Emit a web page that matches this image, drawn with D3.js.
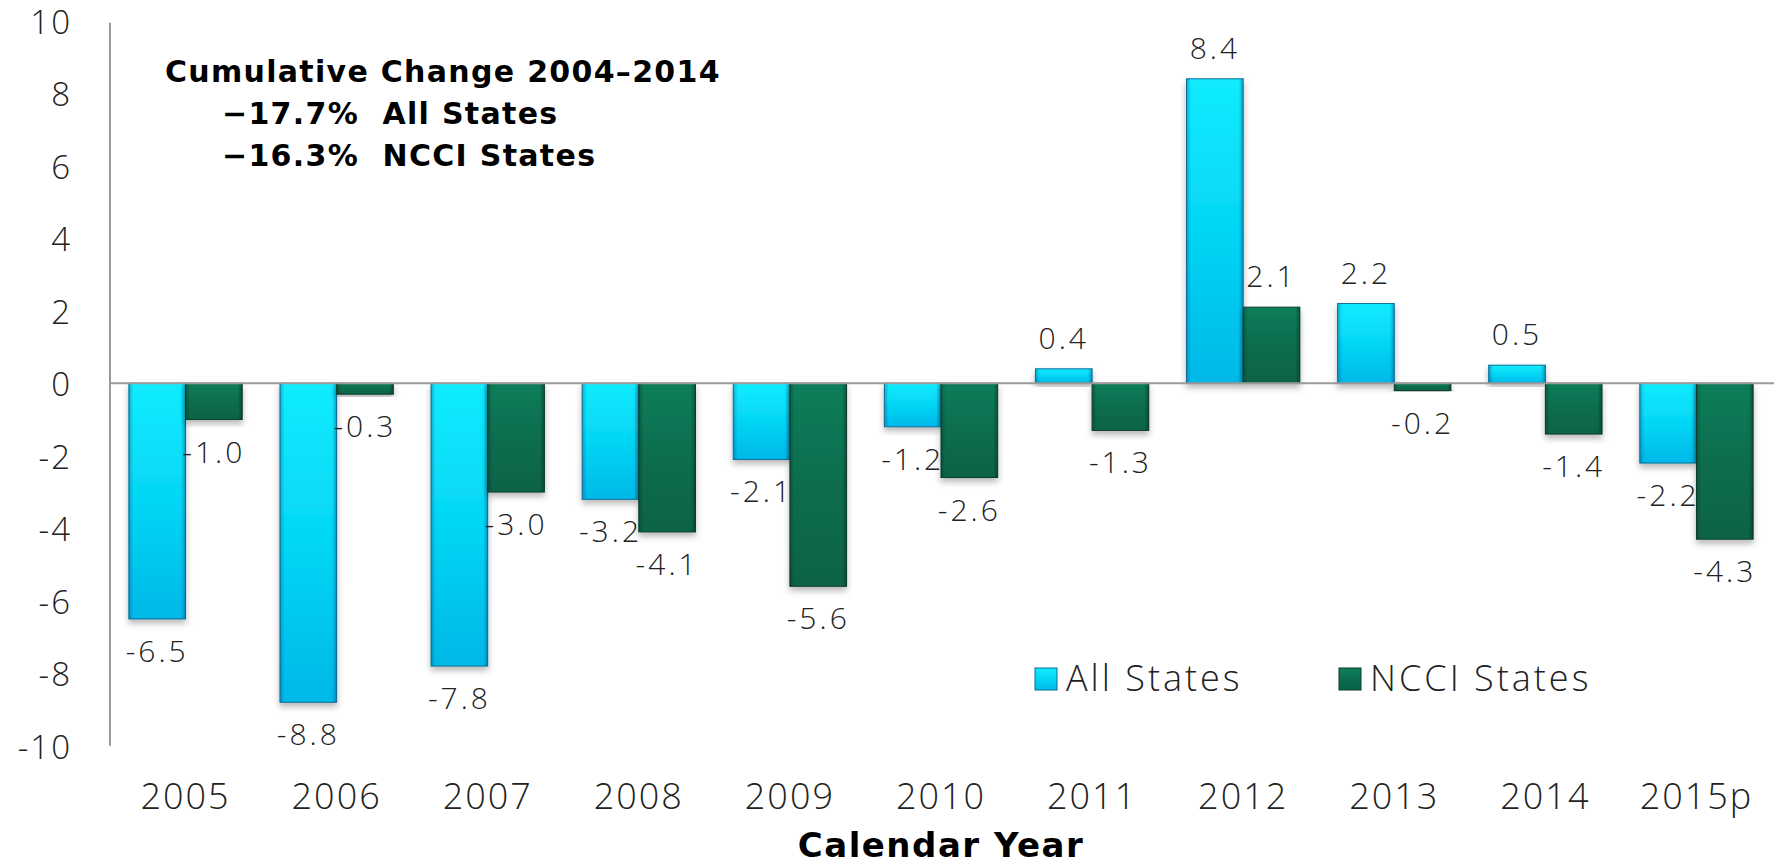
<!DOCTYPE html>
<html>
<head>
<meta charset="utf-8">
<script src="https://cdn.jsdelivr.net/npm/d3@7"></script>
<style>
  html, body { margin: 0; padding: 0; background: #fff; }
  svg { display: block; }
  .light { font-family: "Open Sans", "DejaVu Sans", sans-serif; font-weight: 300; fill: #222; }
  .bold { font-family: "DejaVu Sans", Verdana, sans-serif; font-weight: bold; fill: #000; white-space: pre; }
</style>
</head>
<body>
<svg id="chart" width="1781" height="866"></svg>
<script>
// data
const years = ['2005', '2006', '2007', '2008', '2009', '2010', '2011', '2012', '2013', '2014', '2015p'];
const allStates = [-6.5, -8.8, -7.8, -3.2, -2.1, -1.2, 0.4, 8.4, 2.2, 0.5, -2.2];
const ncciStates = [-1.0, -0.3, -3.0, -4.1, -5.6, -2.6, -1.3, 2.1, -0.2, -1.4, -4.3];
const seriesNames = ['All States', 'NCCI States'];
const yTicks = [-10, -8, -6, -4, -2, 0, 2, 4, 6, 8, 10];
const noteLines = ['Cumulative Change 2004\u20132014', '\u221217.7%  All States', '\u221216.3%  NCCI States'];

const plot = { left: 110, right: 1772, top: 20.8, bottom: 745.8 };

let svg = d3.select('svg#chart');
let defs = svg.append('defs');

// bevel-ish fills, a vertical gradient plus darker side edges
function makeGradients(id, top, mid, bottom, edge) {
  let v = defs.append('linearGradient').attr('id', id).attr('x1', 0).attr('y1', 0).attr('x2', 0).attr('y2', 1);
  v.append('stop').attr('offset', '0%').attr('stop-color', top);
  v.append('stop').attr('offset', '50%').attr('stop-color', mid);
  v.append('stop').attr('offset', '100%').attr('stop-color', bottom);

  let h = defs.append('linearGradient').attr('id', id + '-edge').attr('x1', 0).attr('y1', 0).attr('x2', 1).attr('y2', 0);
  h.append('stop').attr('offset', '0%').attr('stop-color', edge).attr('stop-opacity', 0.35);
  h.append('stop').attr('offset', '8%').attr('stop-color', edge).attr('stop-opacity', 0);
  h.append('stop').attr('offset', '92%').attr('stop-color', edge).attr('stop-opacity', 0);
  h.append('stop').attr('offset', '100%').attr('stop-color', edge).attr('stop-opacity', 0.45);
}
makeGradients('blue', '#12ecff', '#04d6f5', '#02b8e8', '#024a7a');
makeGradients('green', '#0e7d5a', '#0a6d4e', '#086346', '#02261a');

let shadow = defs.append('filter').attr('id', 'shadow')
  .attr('x', '-20%').attr('y', '-20%').attr('width', '140%').attr('height', '140%');
shadow.append('feDropShadow').attr('dx', 0).attr('dy', 4).attr('stdDeviation', 3)
  .attr('flood-color', '#000').attr('flood-opacity', 0.28);

let x0 = d3.scaleBand().domain(years).range([plot.left, plot.right]).paddingInner(0.25).paddingOuter(0.125);
let x1 = d3.scaleBand().domain(seriesNames).range([0, x0.bandwidth()]);
let y = d3.scaleLinear().domain([-10, 10]).range([plot.bottom, plot.top]);

// y axis: line plus labels, no ticks
svg.append('line')
  .attr('x1', plot.left).attr('x2', plot.left)
  .attr('y1', y(10) + 2).attr('y2', y(-10))
  .style('stroke', '#9a9a9a').style('stroke-width', 2);

svg.append('g').selectAll('text').data(yTicks).join('text')
  .attr('class', 'light')
  .attr('x', 72)
  .attr('y', d => y(d) + 13)
  .attr('text-anchor', 'end')
  .style('font-size', '33px')
  .style('letter-spacing', '2px')
  .text(d => String(d));

// x labels
svg.append('g').selectAll('text').data(years).join('text')
  .attr('class', 'light')
  .attr('x', d => x0(d) + x0.bandwidth() / 2)
  .attr('y', 809)
  .attr('text-anchor', 'middle')
  .style('font-size', '36px')
  .style('letter-spacing', '2px')
  .text(d => d);

svg.append('text')
  .attr('class', 'bold')
  .attr('x', (plot.left + plot.right) / 2)
  .attr('y', 857)
  .attr('text-anchor', 'middle')
  .style('font-size', '34px')
  .style('letter-spacing', '1.5px')
  .text('Calendar Year');

// bars
let rows = years.map((yr, i) => ({ yr, values: [allStates[i], ncciStates[i]] }));
let fills = ['blue', 'green'];
let strokes = ['#0b6f98', '#0a3e2e'];

let groups = svg.append('g').selectAll('g').data(rows).join('g')
  .attr('transform', d => `translate(${x0(d.yr)},0)`);

let bars = groups.selectAll('g.bar')
  .data(d => d.values.map((v, s) => ({ v, s })))
  .join('g').attr('class', 'bar');

bars.append('rect')
  .attr('x', d => x1(seriesNames[d.s]))
  .attr('y', d => y(Math.max(0, d.v)))
  .attr('width', x1.bandwidth())
  .attr('height', d => Math.abs(y(d.v) - y(0)))
  .attr('fill', d => `url(#${fills[d.s]})`)
  .attr('stroke', d => strokes[d.s])
  .attr('stroke-width', 1)
  .attr('filter', 'url(#shadow)');

bars.append('rect')
  .attr('x', d => x1(seriesNames[d.s]))
  .attr('y', d => y(Math.max(0, d.v)))
  .attr('width', x1.bandwidth())
  .attr('height', d => Math.abs(y(d.v) - y(0)))
  .attr('fill', d => `url(#${fills[d.s]}-edge)`);

// zero line sits on top of bar edges
svg.append('line')
  .attr('x1', plot.left).attr('x2', plot.right + 2)
  .attr('y1', y(0)).attr('y2', y(0))
  .style('stroke', '#9a9a9a').style('stroke-width', 2);

// value labels, outside end
bars.append('text')
  .attr('class', 'light')
  .attr('x', d => x1(seriesNames[d.s]) + x1.bandwidth() / 2)
  .attr('y', d => d.v >= 0 ? y(d.v) - 20 : y(d.v) + 43)
  .attr('text-anchor', 'middle')
  .style('font-size', '30px')
  .style('letter-spacing', '3px')
  .text(d => d.v.toFixed(1));

// note
let note = svg.append('g');
noteLines.forEach((t, i) => {
  note.append('text')
    .attr('class', 'bold')
    .attr('x', i === 0 ? 165 : 222)
    .attr('y', 82 + i * 42)
    .style('font-size', '30px')
    .style('letter-spacing', '1.3px')
    .text(t);
});

// legend
let legendX = [1035, 1339];
let legend = svg.append('g').selectAll('g').data(seriesNames).join('g')
  .attr('transform', (d, i) => `translate(${legendX[i]},668)`);
legend.append('rect')
  .attr('width', 22).attr('height', 22)
  .attr('fill', (d, i) => `url(#${fills[i]})`)
  .attr('stroke', (d, i) => strokes[i]).attr('stroke-width', 1);
legend.append('text')
  .attr('class', 'light')
  .attr('x', 31)
  .attr('y', 23)
  .style('font-size', '36px')
  .style('letter-spacing', '3px')
  .text(d => d);
</script>
</body>
</html>
